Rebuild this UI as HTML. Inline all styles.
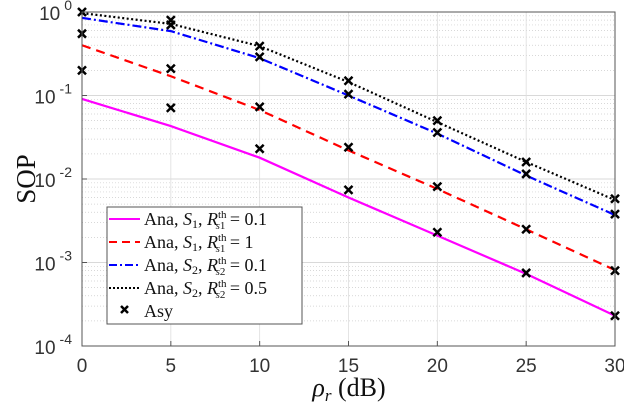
<!DOCTYPE html>
<html><head><meta charset="utf-8"><style>
body{margin:0;background:#fff}
svg{display:block}
</style></head><body>
<svg id="chart" width="624" height="404" xmlns="http://www.w3.org/2000/svg" font-family="Liberation Sans, sans-serif">
<g id="grid"></g>
<g id="series"></g>
<rect x="82" y="12" width="533" height="334" fill="none" stroke="#555" stroke-width="1"/>
<g id="ticks"></g>
<text transform="translate(35,179) rotate(-90)" text-anchor="middle" font-family="Liberation Serif, serif" font-size="27" fill="#111">SOP</text>
<text x="349" y="396" text-anchor="middle" font-family="Liberation Serif, serif" font-size="26" fill="#111"><tspan font-style="italic">ρ</tspan><tspan font-style="italic" font-size="17" dy="5">r</tspan><tspan dy="-5">  (dB)</tspan></text>
<g>
<rect x="107" y="207" width="195" height="117" fill="#fff" stroke="#555" stroke-width="1"/>
<g font-family="Liberation Serif, serif" font-size="18" fill="#111">
<g><line x1="109" y1="219" x2="140" y2="219" stroke="#f0f" stroke-width="2"/><text x="144" y="225">Ana, <tspan font-style="italic">S</tspan><tspan font-size="12" dy="3">1</tspan><tspan dy="-3">, </tspan><tspan font-style="italic">R</tspan><tspan font-size="11" dy="-7">th</tspan><tspan font-size="11" font-style="italic" dx="-11" dy="11">s</tspan><tspan font-size="11">1</tspan><tspan dy="-4"> = 0.1</tspan></text></g>
<g><line x1="109" y1="242" x2="140" y2="242" stroke="#f00" stroke-width="2" stroke-dasharray="8,5"/><text x="144" y="248">Ana, <tspan font-style="italic">S</tspan><tspan font-size="12" dy="3">1</tspan><tspan dy="-3">, </tspan><tspan font-style="italic">R</tspan><tspan font-size="11" dy="-7">th</tspan><tspan font-size="11" font-style="italic" dx="-11" dy="11">s</tspan><tspan font-size="11">1</tspan><tspan dy="-4"> = 1</tspan></text></g>
<g><line x1="109" y1="265" x2="140" y2="265" stroke="#00f" stroke-width="2" stroke-dasharray="8,3,2,3"/><text x="144" y="271">Ana, <tspan font-style="italic">S</tspan><tspan font-size="12" dy="3">2</tspan><tspan dy="-3">, </tspan><tspan font-style="italic">R</tspan><tspan font-size="11" dy="-7">th</tspan><tspan font-size="11" font-style="italic" dx="-11" dy="11">s</tspan><tspan font-size="11">2</tspan><tspan dy="-4"> = 0.1</tspan></text></g>
<g><line x1="109" y1="288" x2="140" y2="288" stroke="#000" stroke-width="2" stroke-dasharray="2,2"/><text x="144" y="294">Ana, <tspan font-style="italic">S</tspan><tspan font-size="12" dy="3">2</tspan><tspan dy="-3">, </tspan><tspan font-style="italic">R</tspan><tspan font-size="11" dy="-7">th</tspan><tspan font-size="11" font-style="italic" dx="-11" dy="11">s</tspan><tspan font-size="11">2</tspan><tspan dy="-4"> = 0.5</tspan></text></g>
<g><path d="M121,306 l7,7 M128,306 l-7,7" stroke="#000" stroke-width="2.5"/><text x="144" y="317">Asy</text></g>
</g></g>
</svg>
<script>
const xVals=[0,5,10,15,20,25,30];
const anaS1a=[0.091,0.043,0.018,0.006,0.0021,0.00073,0.00023];
const anaS1b=[0.40,0.17,0.067,0.022,0.0076,0.0025,0.00081];
const anaS2a=[0.85,0.59,0.28,0.10,0.035,0.011,0.0037];
const anaS2b=[0.97,0.72,0.39,0.145,0.048,0.016,0.0056];
const asyS1a=[null,0.071,0.023,0.0074,0.0023,0.00075,0.00023];
const asyS1b=[0.2,0.21,0.073,0.024,0.0081,0.0025,0.0008];
const asyS2a=[0.55,0.7,0.29,0.104,0.036,0.0115,0.0038];
const asyS2b=[1.0,0.8,0.39,0.15,0.05,0.016,0.0058];
const xTicks=[0,5,10,15,20,25,30];
const yTickExps=[0,-1,-2,-3,-4];
const NS='http://www.w3.org/2000/svg';
const X0=82,X1=615,Y0=12,Y1=346;
function sx(v){return X0+(v-0)/30*(X1-X0);}
function sy(v){return Y0+(-Math.log10(v))/4*(Y1-Y0);}
function mk(t,a,p){const e=document.createElementNS(NS,t);for(const k in a)e.setAttribute(k,a[k]);p.appendChild(e);return e;}
const grid=document.getElementById('grid'),ticks=document.getElementById('ticks'),ser=document.getElementById('series');
for(let e=0;e>-4;e--){for(let m=2;m<=9;m++){const y=sy(m*Math.pow(10,e)/10);const l=mk('line',{x1:X0,x2:X1,y1:y,y2:y,stroke:'#ccc','stroke-width':0.7,'stroke-dasharray':'1,2'},grid);

}}
yTickExps.forEach(e=>{const y=sy(Math.pow(10,e));const l=mk('line',{x1:X0,x2:X1,y1:y,y2:y,stroke:'#ccc','stroke-width':0.8},grid);


const g=mk('text',{x:72,y:y+8,'text-anchor':'end','font-size':19,fill:'#333'},ticks);


g.textContent='10';const s=mk('tspan',{dy:-10,'font-size':14,dx:4},g);s.textContent=String(e);
mk('line',{x1:X0,x2:X0+5,y1:y,y2:y,stroke:'#555'},ticks);});
xTicks.forEach(v=>{const x=sx(v);const l=mk('line',{x1:x,x2:x,y1:Y0,y2:Y1,stroke:'#ddd','stroke-width':0.8},grid);


mk('line',{x1:x,x2:x,y1:Y1,y2:Y1-5,stroke:'#555'},ticks);
const t=mk('text',{x:x,y:372,'text-anchor':'middle','font-size':19,fill:'#333'},ticks);


t.textContent=v;});
function line(vals,color,dash,name){const p=mk('polyline',{points:vals.map((v,i)=>sx(xVals[i])+','+sy(v)).join(' '),fill:'none',stroke:color,'stroke-width':2.2,'stroke-dasharray':dash},ser);

}
line(anaS1a,'#f0f','none','line-ana-s1-01');
line(anaS1b,'#f00','9,6','line-ana-s1-1');
line(anaS2a,'#00f','9,3,2,3','line-ana-s2-01');
line(anaS2b,'#000','2,2.5','line-ana-s2-05');
[asyS1a,asyS1b,asyS2a,asyS2b].forEach(arr=>arr.forEach((v,i)=>{if(v==null)return;const x=sx(xVals[i]),y=sy(v);
const p=mk('path',{d:`M${x-4},${y-4}L${x+4},${y+4}M${x+4},${y-4}L${x-4},${y+4}`,stroke:'#000','stroke-width':2.5},ser);

}));
</script>
</body></html>
